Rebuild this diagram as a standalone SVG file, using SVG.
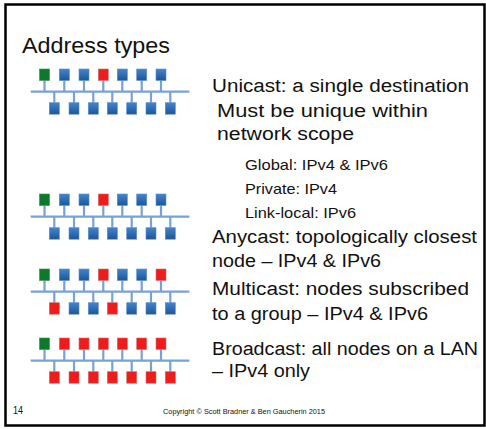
<svg xmlns="http://www.w3.org/2000/svg" xmlns:xlink="http://www.w3.org/1999/xlink" width="486" height="429" viewBox="0 0 486 429">
<style>
.t{font-family:"Liberation Sans",Arial,sans-serif;fill:#111}
.big{font-size:18px}
.sm{font-size:15px}
.b{fill:url(#gb);stroke:#5a8cc8;stroke-width:0.6}
.g{fill:#0b7a2c;stroke:#3c8a50;stroke-width:0.6}
.r{fill:#f01c1c;stroke:#c87070;stroke-width:0.6}
.w{stroke:#79a2d4;stroke-width:2.2;fill:none}
</style>
<defs>
<linearGradient id="gb" x1="0" y1="0" x2="0" y2="1">
<stop offset="0" stop-color="#4484cc"/>
<stop offset="1" stop-color="#1c5699"/>
</linearGradient>
<g id="net">
<path class="w" d="M30.7 22.7H189.3M44.5 11.5V22.7M64.3 11.5V22.7M84 11.5V22.7M103.3 11.5V22.7M122.3 11.5V22.7M141.7 11.5V22.7M161 11.5V22.7M54.3 22.7V33.7M74 22.7V33.7M93.3 22.7V33.7M112.3 22.7V33.7M131.7 22.7V33.7M151 22.7V33.7M170.3 22.7V33.7"/>
</g>
</defs>
<rect x="5.5" y="4.5" width="479" height="421" fill="#fff" stroke="#000" stroke-width="2.5"/>
<text class="t" x="22" y="53" font-size="22" textLength="148" lengthAdjust="spacingAndGlyphs">Address types</text>

<g id="connectors">
<use xlink:href="#net" href="#net" transform="translate(0,69)"/>
<use xlink:href="#net" href="#net" transform="translate(0,194)"/>
<use xlink:href="#net" href="#net" transform="translate(0,269)"/>
<use xlink:href="#net" href="#net" transform="translate(0,338)"/>
</g>

<g id="unicast-net" transform="translate(0,69)">
<rect class="g" x="39.5" y="0" width="10" height="11.5"/>
<rect class="b" x="59.3" y="0" width="10" height="11.5"/>
<rect class="b" x="79" y="0" width="10" height="11.5"/>
<rect class="r" x="98.3" y="0" width="10" height="11.5"/>
<rect class="b" x="117.3" y="0" width="10" height="11.5"/>
<rect class="b" x="136.7" y="0" width="10" height="11.5"/>
<rect class="b" x="156" y="0" width="10" height="11.5"/>
<rect class="b" x="49.3" y="33.7" width="10" height="11.5"/>
<rect class="b" x="69" y="33.7" width="10" height="11.5"/>
<rect class="b" x="88.3" y="33.7" width="10" height="11.5"/>
<rect class="b" x="107.3" y="33.7" width="10" height="11.5"/>
<rect class="b" x="126.7" y="33.7" width="10" height="11.5"/>
<rect class="b" x="146" y="33.7" width="10" height="11.5"/>
<rect class="b" x="165.3" y="33.7" width="10" height="11.5"/>
</g>

<g id="anycast-net" transform="translate(0,194)">
<rect class="g" x="39.5" y="0" width="10" height="11.5"/>
<rect class="b" x="59.3" y="0" width="10" height="11.5"/>
<rect class="b" x="79" y="0" width="10" height="11.5"/>
<rect class="r" x="98.3" y="0" width="10" height="11.5"/>
<rect class="b" x="117.3" y="0" width="10" height="11.5"/>
<rect class="b" x="136.7" y="0" width="10" height="11.5"/>
<rect class="b" x="156" y="0" width="10" height="11.5"/>
<rect class="b" x="49.3" y="33.7" width="10" height="11.5"/>
<rect class="b" x="69" y="33.7" width="10" height="11.5"/>
<rect class="b" x="88.3" y="33.7" width="10" height="11.5"/>
<rect class="b" x="107.3" y="33.7" width="10" height="11.5"/>
<rect class="b" x="126.7" y="33.7" width="10" height="11.5"/>
<rect class="b" x="146" y="33.7" width="10" height="11.5"/>
<rect class="b" x="165.3" y="33.7" width="10" height="11.5"/>
</g>

<g id="multicast-net" transform="translate(0,269)">
<rect class="g" x="39.5" y="0" width="10" height="11.5"/>
<rect class="b" x="59.3" y="0" width="10" height="11.5"/>
<rect class="b" x="79" y="0" width="10" height="11.5"/>
<rect class="r" x="98.3" y="0" width="10" height="11.5"/>
<rect class="b" x="117.3" y="0" width="10" height="11.5"/>
<rect class="b" x="136.7" y="0" width="10" height="11.5"/>
<rect class="r" x="156" y="0" width="10" height="11.5"/>
<rect class="r" x="49.3" y="33.7" width="10" height="11.5"/>
<rect class="b" x="69" y="33.7" width="10" height="11.5"/>
<rect class="b" x="88.3" y="33.7" width="10" height="11.5"/>
<rect class="r" x="107.3" y="33.7" width="10" height="11.5"/>
<rect class="b" x="126.7" y="33.7" width="10" height="11.5"/>
<rect class="b" x="146" y="33.7" width="10" height="11.5"/>
<rect class="b" x="165.3" y="33.7" width="10" height="11.5"/>
</g>

<g id="broadcast-net" transform="translate(0,338)">
<rect class="g" x="39.5" y="0" width="10" height="11.5"/>
<rect class="r" x="59.3" y="0" width="10" height="11.5"/>
<rect class="r" x="79" y="0" width="10" height="11.5"/>
<rect class="r" x="98.3" y="0" width="10" height="11.5"/>
<rect class="r" x="117.3" y="0" width="10" height="11.5"/>
<rect class="r" x="136.7" y="0" width="10" height="11.5"/>
<rect class="r" x="156" y="0" width="10" height="11.5"/>
<rect class="r" x="49.3" y="33.7" width="10" height="11.5"/>
<rect class="r" x="69" y="33.7" width="10" height="11.5"/>
<rect class="r" x="88.3" y="33.7" width="10" height="11.5"/>
<rect class="r" x="107.3" y="33.7" width="10" height="11.5"/>
<rect class="r" x="126.7" y="33.7" width="10" height="11.5"/>
<rect class="r" x="146" y="33.7" width="10" height="11.5"/>
<rect class="r" x="165.3" y="33.7" width="10" height="11.5"/>
</g>

<g id="texts">
<text class="t big" x="212" y="92" textLength="257" lengthAdjust="spacingAndGlyphs">Unicast: a single destination</text>
<text class="t big" x="217" y="117" textLength="211" lengthAdjust="spacingAndGlyphs">Must be unique within</text>
<text class="t big" x="217" y="140" textLength="137" lengthAdjust="spacingAndGlyphs">network scope</text>
<text class="t sm" x="245" y="170" textLength="143" lengthAdjust="spacingAndGlyphs">Global: IPv4 &amp; IPv6</text>
<text class="t sm" x="245" y="193.5" textLength="92" lengthAdjust="spacingAndGlyphs">Private:  IPv4</text>
<text class="t sm" x="245" y="217.5" textLength="111" lengthAdjust="spacingAndGlyphs">Link-local: IPv6</text>
<text class="t big" x="212" y="243" textLength="265" lengthAdjust="spacingAndGlyphs">Anycast: topologically closest</text>
<text class="t big" x="212" y="267" textLength="169" lengthAdjust="spacingAndGlyphs">node – IPv4 &amp; IPv6</text>
<text class="t big" x="212" y="295" textLength="257" lengthAdjust="spacingAndGlyphs">Multicast: nodes subscribed</text>
<text class="t big" x="212" y="320" textLength="216" lengthAdjust="spacingAndGlyphs">to a group – IPv4 &amp; IPv6</text>
<text class="t big" x="212" y="354.5" textLength="266" lengthAdjust="spacingAndGlyphs">Broadcast: all nodes on a LAN</text>
<text class="t big" x="212" y="377" textLength="98" lengthAdjust="spacingAndGlyphs">– IPv4 only</text>
<text class="t" x="13" y="414" font-size="11" textLength="10" lengthAdjust="spacingAndGlyphs">14</text>
<text class="t" x="163" y="414" font-size="6.5" fill="#333" textLength="162" lengthAdjust="spacingAndGlyphs">Copyright  © Scott Bradner &amp; Ben Gaucherin 2015</text>
</g>
</svg>
